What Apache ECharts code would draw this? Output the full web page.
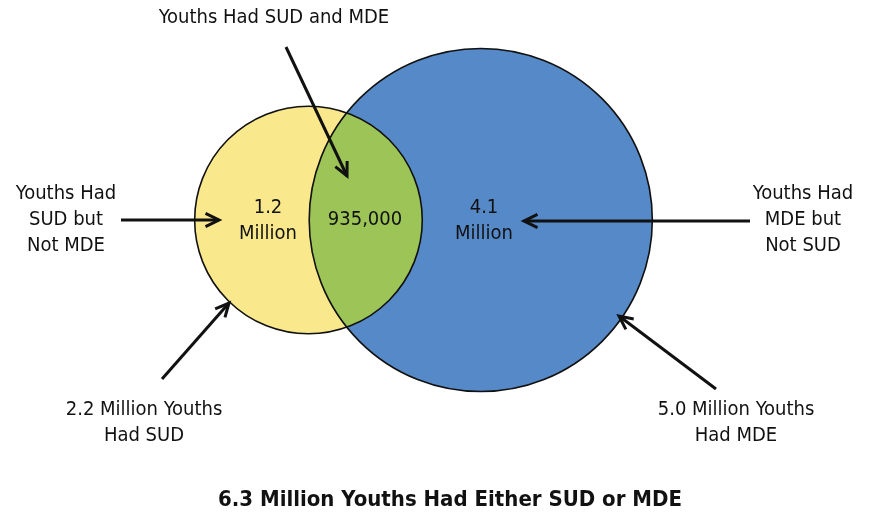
<!DOCTYPE html>
<html><head><meta charset="utf-8">
<script src="https://cdn.jsdelivr.net/npm/echarts@6/dist/echarts.min.js"></script>
<style>html,body{margin:0;padding:0;background:#fff}#c{width:871px;height:514px}</style>
</head><body><div id="c"></div>
<script>
// ---- data ----
const setNames = ['SUD', 'MDE'];
const setTotals = [2.2, 5.0];          // millions of youths
const overlapValue = 0.935;            // millions with both
const regionLabels = ['1.2\nMillion', '935,000', '4.1\nMillion'];
const regionCallouts = ['Youths Had\nSUD but\nNot MDE', 'Youths Had SUD and MDE', 'Youths Had\nMDE but\nNot SUD'];
const setLabels = ['2.2 Million Youths\nHad SUD', '5.0 Million Youths\nHad MDE'];
const titleText = '6.3 Million Youths Had Either SUD or MDE';

// ---- geometry from data (area proportional) ----
const radii = setTotals.map(v => Math.sqrt(v / Math.PI));
function lensArea(d, r1, r2) {
  if (d >= r1 + r2) return 0;
  if (d <= Math.abs(r1 - r2)) return Math.PI * Math.min(r1, r2) ** 2;
  const a1 = Math.acos((d * d + r1 * r1 - r2 * r2) / (2 * d * r1));
  const a2 = Math.acos((d * d + r2 * r2 - r1 * r1) / (2 * d * r2));
  const k = Math.sqrt((-d + r1 + r2) * (d + r1 - r2) * (d - r1 + r2) * (d + r1 + r2));
  return r1 * r1 * a1 + r2 * r2 * a2 - 0.5 * k;
}
let lo = Math.abs(radii[0] - radii[1]), hi = radii[0] + radii[1];
for (let i = 0; i < 80; i++) {
  const m = (lo + hi) / 2;
  if (lensArea(m, radii[0], radii[1]) > overlapValue) lo = m; else hi = m;
}
const dist = (lo + hi) / 2;
const centersX = [0, dist];

// ---- layout ----
const W = 871, H = 514;
const pxPerUnit = 136;
const unionMidPx = 423.5, centerYPx = 220;
const unionMid = (centersX[1] + radii[1] + (centersX[0] - radii[0])) / 2;
const xMin = unionMid - unionMidPx / pxPerUnit;
const xMax = unionMid + (W - unionMidPx) / pxPerUnit;
const yMax = centerYPx / pxPerUnit;
const yMin = -(H - centerYPx) / pxPerUnit;

const fills = ['#FAE98C', '#5589C7'];
const lensFill = '#9DC457';
const FONT = "'Liberation Sans Narrow','Arial Narrow','DejaVu Sans Condensed',sans-serif";
const ink = '#111';

function arrow(x1, y1, x2, y2) {
  const ang = Math.atan2(y2 - y1, x2 - x1);
  const L = 15, spread = 0.45;
  const p1 = [x2 - L * Math.cos(ang - spread), y2 - L * Math.sin(ang - spread)];
  const p2 = [x2 - L * Math.cos(ang + spread), y2 - L * Math.sin(ang + spread)];
  return [
    { type: 'line', shape: { x1, y1, x2, y2 }, style: { stroke: ink, lineWidth: 3 }, z: 10 },
    { type: 'polyline', shape: { points: [p1, [x2, y2], p2] }, style: { stroke: ink, lineWidth: 3, fill: null, lineJoin: 'miter' }, z: 10 }
  ];
}
function txt(x, y, text, size, weight) {
  return { type: 'text', x, y, z: 11,
    style: { text, fill: ink, font: (weight || 'normal') + ' ' + size + 'px ' + FONT,
      align: 'center', verticalAlign: 'middle', lineHeight: 26 } };
}

const graphics = [].concat(
  arrow(286, 47, 347, 176),
  arrow(121, 220, 219, 220),
  arrow(750, 221, 524, 221),
  arrow(162, 379, 229, 303),
  arrow(716, 389, 619, 316),
  [
    txt(268, 221, regionLabels[0], 20),
    txt(365, 220, regionLabels[1], 20),
    txt(484, 221, regionLabels[2], 20),
    txt(66, 220, regionCallouts[0], 20),
    txt(274, 18, regionCallouts[1], 20),
    txt(803, 220, regionCallouts[2], 20),
    txt(144, 423, setLabels[0], 20),
    txt(736, 423, setLabels[1], 20),
    txt(450, 500, titleText, 22, 'bold')
  ]
);

const chart = echarts.init(document.getElementById('c'), null, { renderer: 'canvas' });
chart.setOption({
  animation: false,
  backgroundColor: '#fff',
  grid: { left: 0, right: 0, top: 0, bottom: 0 },
  xAxis: { type: 'value', min: xMin, max: xMax, show: false },
  yAxis: { type: 'value', min: yMin, max: yMax, show: false },
  series: [{
    type: 'custom',
    name: 'Venn',
    data: setNames.map((n, i) => ({ name: n, value: [centersX[i], 0, setTotals[i]] })),
    renderItem: function (params, api) {
      const i = params.dataIndex;
      const c = api.coord([api.value(0), api.value(1)]);
      const r = api.size([radii[i], 0])[0];
      const children = [
        { type: 'circle', z2: 1 + i, shape: { cx: c[0], cy: c[1], r }, style: { fill: fills[i], stroke: null } },
        { type: 'circle', z2: 20, shape: { cx: c[0], cy: c[1], r }, style: { fill: null, stroke: ink, lineWidth: 1.6 } }
      ];
      if (i === 1) {
        const c1 = api.coord([centersX[0], 0]), c2 = c;
        const R1 = api.size([radii[0], 0])[0], R2 = r;
        const dp = c2[0] - c1[0];
        const a = (dp * dp + R1 * R1 - R2 * R2) / (2 * dp);
        const h = Math.sqrt(R1 * R1 - a * a);
        const tx = c1[0] + a, ty = c1[1] - h, by = c1[1] + h;
        const L1 = a < 0 ? 1 : 0, L2 = (dp - a) < 0 ? 1 : 0;
        const d = `M ${tx} ${ty} A ${R1} ${R1} 0 ${L1} 1 ${tx} ${by} A ${R2} ${R2} 0 ${L2} 1 ${tx} ${ty} Z`;
        children.push({ type: 'path', z2: 5, shape: { pathData: d }, style: { fill: lensFill, stroke: null } });
      }
      return { type: 'group', children };
    }
  }],
  graphic: graphics
});
</script></body></html>
